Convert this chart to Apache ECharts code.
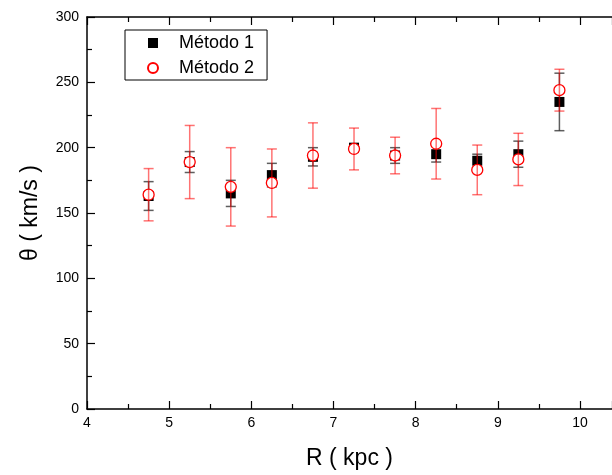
<!DOCTYPE html>
<html>
<head>
<meta charset="utf-8">
<script src="https://cdn.jsdelivr.net/npm/echarts@6/dist/echarts.min.js"></script>
<style>html,body{margin:0;padding:0;background:#fff;}#c{width:612px;height:475px;}</style>
</head>
<body>
<div id="c"></div>
<script>
// ---- data ----
const R = [4.75, 5.25, 5.75, 6.25, 6.75, 7.25, 7.75, 8.25, 8.75, 9.25, 9.75];
const metodo1 = [163, 189, 165, 179, 193, 200, 194, 195, 190, 195, 235];
const metodo1Err = [11, 8, 10, 9, 7, 3, 6, 6, 5, 10, 22];
const metodo2 = [164, 189, 170, 173, 194, 199, 194, 203, 183, 191, 244];
const metodo2Err = [20, 28, 30, 26, 25, 16, 14, 27, 19, 20, 16];
const seriesNames = ['Método 1', 'Método 2'];
const xTicks = [4, 5, 6, 7, 8, 9, 10];
const yTicks = [0, 50, 100, 150, 200, 250, 300];

const FONT = 'Liberation Sans, Arial, sans-serif';
function pts(v) { return R.map((x, i) => [x, v[i]]); }
function errs(v, e) { return R.map((x, i) => [x, v[i] - e[i], v[i] + e[i]]); }
function errRender(color) {
  return function (params, api) {
    const x = api.value(0), lo = api.value(1), hi = api.value(2);
    const a = api.coord([x, lo]), b = api.coord([x, hi]);
    const w = 5;
    const st = { stroke: color, lineWidth: 1.5 };
    return {
      type: 'group', children: [
        { type: 'line', shape: { x1: a[0], y1: a[1], x2: b[0], y2: b[1] }, style: st },
        { type: 'line', shape: { x1: a[0] - w, y1: a[1], x2: a[0] + w, y2: a[1] }, style: st },
        { type: 'line', shape: { x1: b[0] - w, y1: b[1], x2: b[0] + w, y2: b[1] }, style: st }
      ]
    };
  };
}
const axisCommon = {
  axisLine: { show: true, onZero: false, lineStyle: { color: '#000', width: 1.5 } },
  axisTick: { show: true, inside: true, length: 8, lineStyle: { color: '#000', width: 1.2 } },
  minorTick: { show: true, splitNumber: 2, length: 5, lineStyle: { color: '#000', width: 1.2 } },
  splitLine: { show: false }
};
const chart = echarts.init(document.getElementById('c'), null, { renderer: 'canvas' });
chart.setOption({
  animation: false,
  backgroundColor: '#fff',
  grid: { left: 87, right: 0, top: 17, bottom: 65, containLabel: false },
  xAxis: [
    Object.assign({
      type: 'value', min: 4, max: 10.39, interval: 1, position: 'bottom',
      name: 'R ( kpc )', nameLocation: 'middle', nameGap: 38,
      nameTextStyle: { fontFamily: FONT, fontSize: 23, color: '#000' },
      axisLabel: { fontFamily: FONT, fontSize: 14, color: '#000', margin: 7, showMaxLabel: false,
        formatter: v => xTicks.includes(v) ? String(v) : '' }
    }, axisCommon),
    Object.assign({
      type: 'value', min: 4, max: 10.39, interval: 1, position: 'top',
      axisLabel: { show: false }
    }, axisCommon)
  ],
  yAxis: [
    Object.assign({
      type: 'value', min: 0, max: 300, interval: 50, position: 'left',
      name: 'θ ( km/s )', nameLocation: 'middle', nameGap: 45,
      nameTextStyle: { fontFamily: FONT, fontSize: 23, color: '#000' },
      axisLabel: { fontFamily: FONT, fontSize: 14, color: '#000', margin: 8,
        formatter: v => yTicks.includes(v) ? String(v) : '' }
    }, axisCommon)
  ],
  legend: {
    left: 125, top: 30, orient: 'vertical',
    data: [
      { name: seriesNames[0], icon: 'rect' },
      { name: seriesNames[1], icon: 'circle' }
    ],
    itemWidth: 10, itemHeight: 10, itemGap: 7,
    padding: [4, 13, 3, 22],
    borderColor: '#000', borderWidth: 1, borderRadius: 0,
    textStyle: { fontFamily: FONT, fontSize: 18, color: '#000', lineHeight: 18, padding: [0, 0, 0, 16] }
  },
  series: [
    {
      type: 'custom', name: 'err1', xAxisIndex: 0, yAxisIndex: 0,
      data: errs(metodo1, metodo1Err), renderItem: errRender('rgba(40,40,40,0.75)'), z: 2,
      encode: { x: 0, y: [1, 2] }
    },
    {
      type: 'scatter', name: seriesNames[0], data: pts(metodo1),
      symbol: 'rect', symbolSize: 10, itemStyle: { color: '#000', opacity: 1 }, z: 3
    },
    {
      type: 'scatter', name: seriesNames[1], data: pts(metodo2),
      symbol: 'circle', symbolSize: 11,
      itemStyle: { color: '#fff', borderColor: '#ff0000', borderWidth: 1.3, opacity: 1 }, z: 4
    },
    {
      type: 'custom', name: 'err2', xAxisIndex: 0, yAxisIndex: 0,
      data: errs(metodo2, metodo2Err), renderItem: errRender('rgba(255,0,0,0.55)'), z: 5,
      encode: { x: 0, y: [1, 2] }
    }
  ]
});
</script>
</body>
</html>
